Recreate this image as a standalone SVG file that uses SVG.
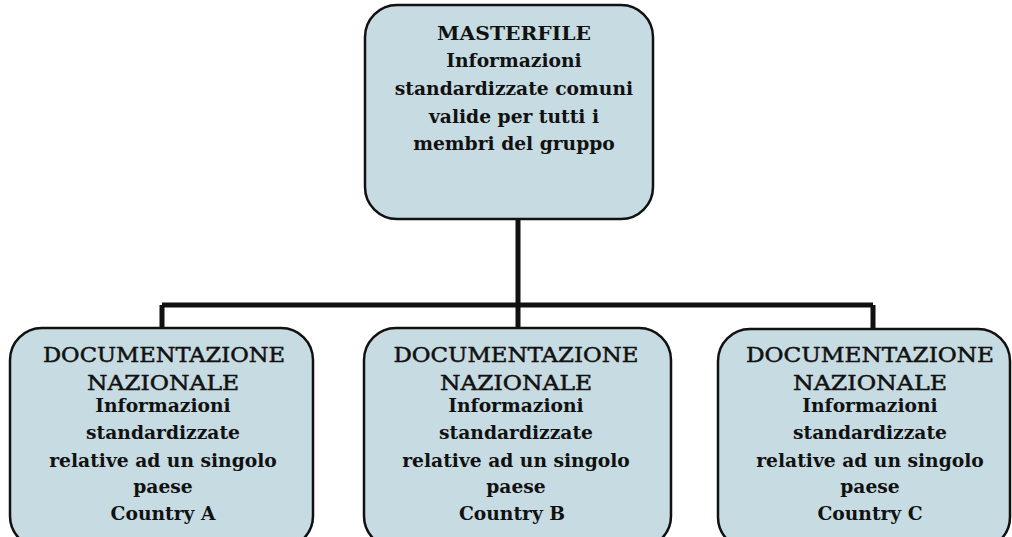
<svg xmlns="http://www.w3.org/2000/svg" width="1012" height="537" viewBox="0 0 1012 537">
<style>
.box{fill:#c7dbe2;stroke:#111;stroke-width:2.5}
.t{font-family:"DejaVu Serif","Liberation Serif",serif;fill:#111;text-anchor:middle}
.h{font-size:20px;stroke:#111;stroke-width:0.5}
.b{font-size:18.7px;font-weight:bold}
.c{fill:none;stroke:#111;stroke-width:5}
</style>
<rect width="1012" height="537" fill="#fff"/>
<g id="connectors">
<path class="c" d="M518 220V305M162 305H873M162 305V328M518 305V328M873 305V328"/>
</g>
<g id="master">
<rect class="box" x="365" y="5" width="288" height="214" rx="32"/>
<text class="t b" x="514" y="40" textLength="154" lengthAdjust="spacingAndGlyphs">MASTERFILE</text>
<text class="t b" x="514" y="67">Informazioni</text>
<text class="t b" x="514" y="95">standardizzate comuni</text>
<text class="t b" x="514" y="123">valide per tutti i</text>
<text class="t b" x="514" y="150">membri del gruppo</text>
</g>
<g id="countryA">
<rect class="box" x="10" y="328" width="303" height="220" rx="32"/>
<text class="t h" x="164" y="362" textLength="242" lengthAdjust="spacingAndGlyphs">DOCUMENTAZIONE</text>
<text class="t h" x="163" y="390" textLength="152" lengthAdjust="spacingAndGlyphs">NAZIONALE</text>
<text class="t b" x="163" y="412">Informazioni</text>
<text class="t b" x="163" y="439">standardizzate</text>
<text class="t b" x="163" y="467">relative ad un singolo</text>
<text class="t b" x="163" y="493">paese</text>
<text class="t b" x="163" y="520">Country A</text>
</g>
<g id="countryB">
<rect class="box" x="364" y="328" width="307" height="220" rx="32"/>
<text class="t h" x="516" y="362" textLength="245" lengthAdjust="spacingAndGlyphs">DOCUMENTAZIONE</text>
<text class="t h" x="516" y="390" textLength="152" lengthAdjust="spacingAndGlyphs">NAZIONALE</text>
<text class="t b" x="516" y="412">Informazioni</text>
<text class="t b" x="516" y="439">standardizzate</text>
<text class="t b" x="516" y="467">relative ad un singolo</text>
<text class="t b" x="516" y="493">paese</text>
<text class="t b" x="512" y="520">Country B</text>
</g>
<g id="countryC">
<rect class="box" x="718" y="329" width="292" height="220" rx="32"/>
<text class="t h" x="870" y="362" textLength="248" lengthAdjust="spacingAndGlyphs">DOCUMENTAZIONE</text>
<text class="t h" x="870" y="390" textLength="154" lengthAdjust="spacingAndGlyphs">NAZIONALE</text>
<text class="t b" x="870" y="412">Informazioni</text>
<text class="t b" x="870" y="439">standardizzate</text>
<text class="t b" x="870" y="467">relative ad un singolo</text>
<text class="t b" x="870" y="493">paese</text>
<text class="t b" x="870" y="520">Country C</text>
</g>
</svg>
